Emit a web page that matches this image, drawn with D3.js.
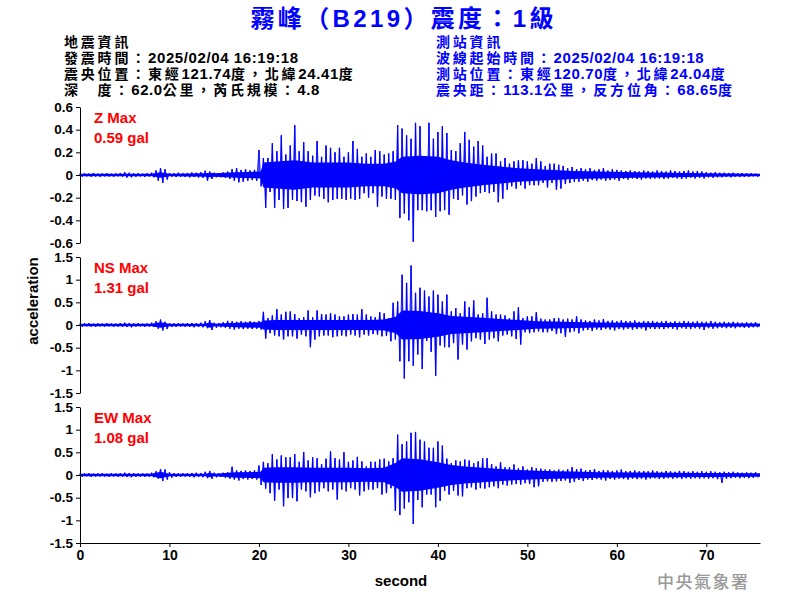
<!DOCTYPE html>
<html><head><meta charset="utf-8">
<script src="https://cdn.jsdelivr.net/npm/d3@7"></script>
<style>body{margin:0;background:#fff}svg{display:block}</style>
</head><body>
<svg id="c" width="800" height="600"></svg>
<script>
// ---- data ----
// peak values: one positive / negative peak per 0.5 s
const sampleStep = 0.5;
const zUp = [0.012,0.015,0.012,0.018,0.012,0.014,0.016,0.012,0.014,0.018,0.025,0.02,0.014,0.016,0.012,0.015,0.02,0.04,0.06,0.05,0.018,0.015,0.02,0.016,0.018,0.022,0.02,0.025,0.038,0.03,0.02,0.018,0.022,0.03,
0.05,0.06,0.045,0.05,0.04,0.045,
0.22,0.15,0.15,0.28,0.21,0.35,0.18,0.26,0.44,0.21,0.29,0.21,0.17,0.30,0.16,0.26,0.24,0.20,0.24,0.16,
0.20,0.30,0.23,0.16,0.19,0.16,0.22,0.21,0.18,0.19,0.21,0.44,0.41,0.35,0.32,0.46,0.43,0.16,0.46,0.32,
0.38,0.43,0.37,0.22,0.21,0.28,0.38,0.31,0.25,0.30,0.26,0.16,0.19,0.19,0.12,0.15,0.10,0.12,0.13,0.13,
0.12,0.10,0.15,0.12,0.08,0.10,0.10,
0.09,0.08,0.06,0.07,0.05,0.06,0.05,0.06,0.045,0.05,0.06,0.04,0.05,0.045,0.04,0.035,0.04,0.035,0.03,0.04,0.035,0.03,0.04,0.035,0.03,0.04,0.035,0.03,0.035,0.04,0.03,0.035,0.03,0.025,0.02,0.025,0.02,0.02,0.018,0.02,0.015,0.018,0.015,0.015,0.012];
const zDn = [-0.014,-0.012,-0.016,-0.013,-0.015,-0.012,-0.014,-0.016,-0.012,-0.015,-0.022,-0.02,-0.015,-0.013,-0.016,-0.014,-0.02,-0.05,-0.07,-0.04,-0.016,-0.018,-0.015,-0.018,-0.02,-0.018,-0.022,-0.025,-0.05,-0.035,-0.02,-0.02,-0.025,-0.035,
-0.05,-0.065,-0.06,-0.05,-0.045,-0.05,
-0.10,-0.29,-0.15,-0.29,-0.22,-0.30,-0.29,-0.22,-0.23,-0.24,-0.28,-0.22,-0.18,-0.19,-0.21,-0.24,-0.22,-0.21,-0.21,-0.22,
-0.21,-0.22,-0.21,-0.16,-0.20,-0.16,-0.28,-0.19,-0.21,-0.21,-0.22,-0.38,-0.34,-0.40,-0.59,-0.31,-0.31,-0.32,-0.31,-0.37,
-0.32,-0.31,-0.35,-0.21,-0.22,-0.18,-0.26,-0.23,-0.19,-0.16,-0.15,-0.16,-0.15,-0.24,-0.21,-0.13,-0.10,-0.12,-0.09,-0.12,
-0.09,-0.09,-0.09,-0.07,-0.11,-0.07,-0.13,
-0.12,-0.08,-0.07,-0.06,-0.06,-0.05,-0.06,-0.045,-0.05,-0.04,-0.05,-0.045,-0.04,-0.05,-0.035,-0.04,-0.03,-0.035,-0.04,-0.03,-0.035,-0.03,-0.03,-0.035,-0.03,-0.025,-0.03,-0.035,-0.03,-0.025,-0.03,-0.025,-0.03,-0.02,-0.025,-0.02,-0.02,-0.018,-0.02,-0.015,-0.018,-0.015,-0.015,-0.012,-0.015];
const nsUp = [0.03,0.035,0.04,0.03,0.035,0.03,0.04,0.035,0.03,0.04,0.05,0.045,0.035,0.04,0.03,0.035,0.05,0.08,0.12,0.07,0.04,0.035,0.04,0.035,0.04,0.045,0.04,0.05,0.08,0.11,0.05,0.045,0.06,0.09,
0.08,0.07,0.08,0.07,0.08,0.07,
0.09,0.29,0.15,0.21,0.35,0.23,0.29,0.30,0.24,0.15,0.17,0.32,0.17,0.32,0.24,0.23,0.26,0.23,0.19,0.19,
0.23,0.24,0.23,0.35,0.23,0.19,0.17,0.28,0.26,0.15,0.49,0.52,1.11,0.93,1.31,0.71,0.82,0.76,0.63,0.76,
0.67,0.52,0.67,0.30,0.37,0.26,0.52,0.39,0.54,0.23,0.26,0.60,0.30,0.23,0.23,0.21,0.15,0.30,0.39,0.15,
0.19,0.19,0.28,0.14,0.12,0.12,0.15,
0.15,0.12,0.14,0.12,0.19,0.12,0.1,0.09,0.12,0.1,0.13,0.09,0.1,0.08,0.1,0.09,0.08,0.1,0.07,0.09,0.08,0.09,0.07,0.08,0.09,0.07,0.08,0.07,0.09,0.08,0.07,0.08,0.07,0.07,0.09,0.07,0.06,0.07,0.06,0.07,0.06,0.05,0.06,0.05,0.06];
const nsDn = [-0.035,-0.03,-0.035,-0.04,-0.03,-0.035,-0.03,-0.04,-0.035,-0.04,-0.045,-0.05,-0.035,-0.03,-0.04,-0.035,-0.045,-0.08,-0.12,-0.09,-0.045,-0.04,-0.035,-0.04,-0.04,-0.05,-0.045,-0.05,-0.07,-0.11,-0.06,-0.05,-0.06,-0.08,
-0.10,-0.08,-0.09,-0.08,-0.09,-0.08,
-0.10,-0.30,-0.18,-0.23,-0.25,-0.32,-0.25,-0.25,-0.30,-0.21,-0.25,-0.49,-0.32,-0.25,-0.23,-0.23,-0.27,-0.25,-0.23,-0.25,
-0.21,-0.23,-0.27,-0.21,-0.23,-0.20,-0.21,-0.25,-0.24,-0.36,-0.32,-0.80,-1.18,-0.80,-0.90,-0.65,-0.97,-0.35,-0.59,-1.12,
-0.45,-0.49,-0.49,-0.40,-0.76,-0.43,-0.54,-0.36,-0.29,-0.32,-0.42,-0.32,-0.29,-0.36,-0.23,-0.21,-0.25,-0.31,-0.43,-0.16,
-0.18,-0.16,-0.14,-0.16,-0.16,-0.13,-0.20,
-0.18,-0.26,-0.16,-0.14,-0.18,-0.12,-0.11,-0.13,-0.1,-0.11,-0.09,-0.1,-0.12,-0.09,-0.1,-0.08,-0.1,-0.09,-0.08,-0.12,-0.08,-0.09,-0.08,-0.09,-0.07,-0.08,-0.1,-0.07,-0.08,-0.09,-0.07,-0.08,-0.11,-0.07,-0.08,-0.07,-0.06,-0.07,-0.06,-0.07,-0.05,-0.06,-0.06,-0.05,-0.05];
const ewUp = [0.03,0.035,0.04,0.03,0.035,0.04,0.03,0.04,0.035,0.04,0.05,0.045,0.04,0.035,0.04,0.035,0.05,0.08,0.13,0.12,0.06,0.04,0.035,0.04,0.04,0.045,0.05,0.045,0.07,0.09,0.05,0.04,0.05,0.06,
0.18,0.10,0.09,0.10,0.09,0.10,
0.21,0.29,0.26,0.46,0.34,0.43,0.39,0.39,0.46,0.29,0.51,0.32,0.39,0.37,0.24,0.36,0.52,0.37,0.34,0.50,
0.29,0.32,0.40,0.30,0.19,0.29,0.29,0.34,0.36,0.30,0.37,0.89,0.68,0.74,0.93,0.95,0.78,0.74,0.60,0.60,
0.74,0.65,0.36,0.26,0.32,0.30,0.34,0.32,0.26,0.30,0.37,0.37,0.24,0.19,0.28,0.17,0.17,0.23,0.15,0.19,
0.12,0.17,0.15,0.14,0.12,0.12,0.10,
0.12,0.10,0.13,0.17,0.13,0.14,0.10,0.11,0.13,0.09,0.11,0.10,0.09,0.10,0.12,0.08,0.09,0.10,0.08,0.09,0.08,0.10,0.08,0.07,0.09,0.08,0.07,0.09,0.08,0.07,0.08,0.07,0.08,0.07,0.08,0.07,0.06,0.07,0.06,0.07,0.06,0.05,0.06,0.05,0.06];
const ewDn = [-0.035,-0.03,-0.04,-0.035,-0.03,-0.035,-0.04,-0.035,-0.04,-0.035,-0.045,-0.05,-0.04,-0.035,-0.04,-0.04,-0.05,-0.08,-0.13,-0.10,-0.06,-0.04,-0.04,-0.035,-0.04,-0.05,-0.045,-0.05,-0.07,-0.08,-0.05,-0.045,-0.06,-0.08,
-0.10,-0.12,-0.09,-0.10,-0.09,-0.10,
-0.22,-0.30,-0.40,-0.57,-0.32,-0.69,-0.51,-0.51,-0.58,-0.32,-0.36,-0.49,-0.40,-0.36,-0.29,-0.36,-0.32,-0.54,-0.32,-0.36,
-0.29,-0.32,-0.45,-0.36,-0.32,-0.32,-0.29,-0.43,-0.40,-0.29,-0.79,-0.88,-0.74,-0.60,-1.08,-0.55,-0.71,-0.43,-0.43,-0.71,
-0.57,-0.35,-0.43,-0.35,-0.45,-0.47,-0.29,-0.27,-0.32,-0.29,-0.30,-0.27,-0.25,-0.29,-0.21,-0.23,-0.21,-0.20,-0.21,-0.18,
-0.20,-0.27,-0.25,-0.15,-0.14,-0.15,-0.14,
-0.13,-0.12,-0.17,-0.15,-0.11,-0.13,-0.10,-0.11,-0.09,-0.10,-0.12,-0.09,-0.10,-0.08,-0.09,-0.10,-0.08,-0.09,-0.08,-0.10,-0.08,-0.07,-0.09,-0.08,-0.07,-0.08,-0.07,-0.09,-0.07,-0.08,-0.07,-0.08,-0.07,-0.08,-0.07,-0.09,-0.17,-0.08,-0.07,-0.06,-0.07,-0.06,-0.07,-0.06,-0.05];

// half-width of the solid (densely oscillating) band at these times
const coreT  = [0,8,9,10,14,14.5,15,17.5,20.2,20.5,22,24,26,28,30,32,34,35.3,36,38,40,41.5,43,45,47,49,51,53,55,58,62,66,70,76];
const zCore  = [0.012,0.012,0.025,0.012,0.015,0.02,0.015,0.025,0.03,0.11,0.12,0.13,0.11,0.11,0.11,0.1,0.1,0.12,0.16,0.17,0.16,0.13,0.11,0.09,0.075,0.06,0.05,0.045,0.035,0.03,0.025,0.02,0.015,0.01];
const nsCore = [0.03,0.03,0.06,0.03,0.03,0.06,0.03,0.05,0.06,0.1,0.11,0.11,0.11,0.11,0.11,0.11,0.12,0.18,0.32,0.31,0.26,0.2,0.18,0.16,0.13,0.11,0.085,0.075,0.065,0.055,0.05,0.045,0.04,0.035];
const ewCore = [0.03,0.03,0.07,0.03,0.03,0.05,0.03,0.06,0.07,0.16,0.17,0.17,0.16,0.16,0.16,0.15,0.16,0.27,0.37,0.35,0.28,0.22,0.19,0.16,0.13,0.11,0.095,0.085,0.075,0.06,0.055,0.05,0.045,0.04];

const zTicks = [-0.6,-0.4,-0.2,0,0.2,0.4,0.6];
const hTicks = [-1.5,-1,-0.5,0,0.5,1,1.5];
const xTicks = [0,10,20,30,40,50,60,70];
const componentNames = ["Z Max","NS Max","EW Max"];
const maxLabels = ["0.59 gal","1.31 gal","1.08 gal"];
const title = "霧峰（B219）震度：1級";
const leftInfo = ["地震資訊","發震時間：2025/02/04 16:19:18","震央位置：東經121.74度，北緯24.41度","深　度：62.0公里，芮氏規模：4.8"];
const rightInfo = ["測站資訊","波線起始時間：2025/02/04 16:19:18","測站位置：東經120.70度，北緯24.04度","震央距：113.1公里，反方位角：68.65度"];

// ---- drawing ----
const FONT = "'Liberation Sans', Arial, 'Noto Sans CJK TC', sans-serif";
const BLUE = "#0000ff";
const svg = d3.select("#c");
svg.append("rect").attr("width",800).attr("height",600).attr("fill","#fff");

svg.append("text").attr("x",402).attr("y",27).attr("text-anchor","middle")
  .attr("font-family",FONT).attr("font-weight","bold").attr("font-size",24)
  .attr("fill",BLUE).attr("textLength",303).attr("lengthAdjust","spacing").text(title);

const runRe = /[\u3000-\u9fff\uff00-\uffef]+|[^\u3000-\u9fff\uff00-\uffef]+/g;
function info(lines, x0, color){
  lines.forEach((s,i)=>{
    const t = svg.append("text").attr("x",x0).attr("y",47+i*16)
      .attr("font-family",FONT).attr("font-weight","bold").attr("font-size",14).attr("fill",color);
    s.match(runRe).forEach(run=>{
      const isCjk = /[\u3000-\u9fff\uff00-\uffef]/.test(run);
      t.append("tspan").attr("font-size",isCjk?14:15).attr("letter-spacing",isCjk?2.8:0.6).text(run);
    });
  });
}
info(leftInfo,64,"#000");
info(rightInfo,436,BLUE);

const x = d3.scaleLinear().domain([0,76]).range([80,760]);
const panels = [
  {up:zUp, dn:zDn, core:zCore, dom:[-0.6,0.6], ticks:zTicks, top:107},
  {up:nsUp, dn:nsDn, core:nsCore, dom:[-1.5,1.5], ticks:hTicks, top:257},
  {up:ewUp, dn:ewDn, core:ewCore, dom:[-1.5,1.5], ticks:hTicks, top:407}
];
const panelH = 136;

panels.forEach((p,k)=>{
  const y = d3.scaleLinear().domain(p.dom).range([p.top+panelH, p.top]);
  // solid band
  svg.append("path").datum(p.core)
    .attr("d", d3.area().x((d,i)=>x(coreT[i])).y0(d=>y(-d)).y1(d=>y(d)))
    .attr("fill",BLUE).attr("stroke","none");
  // peaks: alternating positive / negative extremes
  const spikes = [];
  p.up.forEach((v,i)=>{
    spikes.push({t:i*sampleStep, v:v});
    spikes.push({t:i*sampleStep+sampleStep/2, v:p.dn[i]});
  });
  svg.append("path").datum(spikes)
    .attr("d", d3.line().x(d=>x(d.t)).y(d=>y(d.v)))
    .attr("fill","none").attr("stroke",BLUE).attr("stroke-width",0.8);
  svg.append("g").selectAll("line").data(spikes).join("line")
    .attr("x1",d=>x(d.t)).attr("x2",d=>x(d.t))
    .attr("y1",y(0)).attr("y2",d=>y(d.v))
    .attr("stroke",BLUE).attr("stroke-width",1.3);

  const ax = svg.append("g").attr("transform","translate(80,0)")
    .call(d3.axisLeft(y).tickValues(p.ticks).tickFormat(d=>String(d)).tickSize(4).tickSizeOuter(0).tickPadding(3));
  ax.selectAll("text").attr("font-family",FONT).attr("font-weight","bold").attr("font-size",13.5).attr("fill","#000");
  ax.selectAll("path,line").attr("stroke","#000");

  svg.append("text").attr("x",94).attr("y",p.top+16).attr("font-family",FONT).attr("font-weight","bold")
    .attr("font-size",15).attr("fill","#ff0000").text(componentNames[k]);
  svg.append("text").attr("x",94).attr("y",p.top+36).attr("font-family",FONT).attr("font-weight","bold")
    .attr("font-size",15).attr("fill","#ff0000").text(maxLabels[k]);
});

const xa = svg.append("g").attr("transform","translate(0,543)")
  .call(d3.axisBottom(x).tickValues(xTicks).tickFormat(d=>String(d)).tickSize(4).tickSizeOuter(0).tickPadding(3));
xa.selectAll("text").attr("font-family",FONT).attr("font-weight","bold").attr("font-size",14).attr("fill","#000");
xa.selectAll("path,line").attr("stroke","#000");

svg.append("text").attr("x",401).attr("y",586).attr("text-anchor","middle").attr("font-family",FONT)
  .attr("font-weight","bold").attr("font-size",15).text("second");
svg.append("text").attr("transform","translate(38,301) rotate(-90)").attr("text-anchor","middle").attr("font-family",FONT)
  .attr("font-weight","bold").attr("font-size",15).text("acceleration");
svg.append("text").attr("x",657).attr("y",588).attr("font-family","'Noto Sans CJK TC', sans-serif")
  .attr("font-weight",500).attr("font-size",17).attr("letter-spacing",1.5).attr("fill","#999").text("中央氣象署");
</script>
</body></html>
